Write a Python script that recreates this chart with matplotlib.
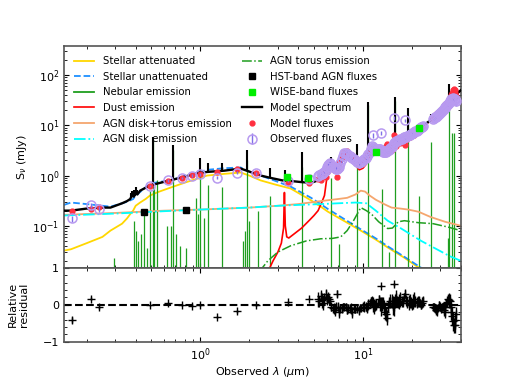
import matplotlib
matplotlib.use('Agg')
import matplotlib.pyplot as plt
from matplotlib.ticker import MultipleLocator

# ---- stellar components (wavelength in micron, flux in mJy) ----
stel_wave = [0.145, 0.16, 0.2, 0.25, 0.28, 0.33, 0.354, 0.37, 0.386, 0.40, 0.426, 0.46, 0.49, 0.55, 0.65,
             0.8, 0.96, 1.1, 1.4, 1.77, 2.0, 2.35, 2.9, 3.6, 4.8, 5.5, 6.1, 8.0, 9.7, 12.0, 14.2, 18.0, 21.8, 25.0]
stel_att = [0.032, 0.034, 0.045, 0.06, 0.08, 0.11, 0.14, 0.17, 0.2, 0.25, 0.29, 0.34, 0.40, 0.47, 0.57,
            0.72, 0.87, 1.0, 1.08, 1.15, 1.0, 0.8, 0.66, 0.55, 0.32, 0.24, 0.19, 0.115, 0.08, 0.053, 0.037,
            0.023, 0.015, 0.011]
stel_unatt = [0.26, 0.29, 0.27, 0.25, 0.24, 0.28, 0.30, 0.32, 0.34, 0.4, 0.47, 0.58, 0.69, 0.74, 0.8,
              0.98, 1.15, 1.3, 1.4, 1.45, 1.2, 1.0, 0.78, 0.6, 0.36, 0.27, 0.215, 0.125, 0.085, 0.056, 0.039,
              0.024, 0.016, 0.012]

# ---- nebular lines ----
neb_wave = [0.295, 0.391, 0.403, 0.414, 0.433, 0.451, 0.471, 0.491, 0.513, 0.52, 0.543, 0.626, 0.662, 0.681,
            0.711, 0.753, 0.82, 0.945, 0.972, 1.0, 1.06, 1.12, 1.35, 1.82, 1.87, 1.95, 2.0, 2.25, 2.7, 4.2,
            6.4, 7.1, 9.2, 10.7, 13.1, 14.5, 15.8, 18.9, 22.2, 26.3, 33.5, 34.0, 35.3, 36.3]
neb_peak = [0.023, 0.126, 0.08, 0.05, 0.07, 0.2, 0.036, 0.5, 5.0, 0.6, 0.8, 0.1, 0.1, 3.2,
            0.07, 0.04, 0.036, 0.36, 0.17, 1.0, 0.14, 0.65, 0.6, 0.05, 0.08, 2.0, 0.126, 0.2, 0.4, 1.5,
            0.9, 0.043, 2.3, 25.0, 0.55, 0.03, 30.0, 16.0, 0.4, 4.6, 0.058, 40.0, 7.2, 7.2]

# ---- dust ----
dust_wave = [2.6, 2.8, 3.0, 3.15, 3.25, 3.29, 3.33, 3.4, 3.5, 3.8, 4.2, 4.7, 5.0, 5.3, 5.6, 5.8, 6.0, 6.2,
             6.6, 7.0, 7.4, 7.7, 8.1, 8.5, 9.0, 9.5, 10.0, 10.5, 11.0, 11.3, 11.8, 12.4, 12.8, 13.5, 14.2,
             15.0, 15.5, 17.0, 18.5, 20.0, 22.0, 24.0, 26.0, 28.0, 30.0, 33.0, 36.0, 40.0]
dust_flux = [0.012, 0.02, 0.03, 0.045, 0.09, 0.46, 0.1, 0.06, 0.057, 0.07, 0.09, 0.13, 0.16, 0.2, 0.3, 0.4,
             0.9, 1.35, 1.15, 1.2, 1.8, 2.7, 2.4, 2.0, 1.6, 1.3, 1.4, 1.7, 2.5, 3.2, 3.0, 3.0, 3.1, 2.6, 2.9,
             3.5, 4.0, 5.0, 5.8, 6.6, 8.2, 10.1, 12.2, 14.2, 18.2, 26.7, 36.7, 49.7]

# ---- AGN ----
agn_wave = [0.145, 0.3, 0.6, 1.0, 2.0, 3.0, 4.0, 5.5, 7.0, 8.0, 9.0, 9.7, 10.3, 11.0, 12.0, 13.5, 15.0,
            17.0, 19.0, 22.0, 26.0, 32.0, 40.0]
agn_total = [0.165, 0.18, 0.2, 0.21, 0.23, 0.25, 0.27, 0.31, 0.34, 0.36, 0.42, 0.5, 0.48, 0.4, 0.33, 0.27,
             0.23, 0.22, 0.21, 0.19, 0.15, 0.12, 0.1]
disk_wave = [0.145, 0.3, 0.6, 1.0, 2.0, 3.0, 4.0, 5.5, 7.0, 9.0, 10.5, 12.0, 14.2, 17.0, 20.0, 22.8, 28.0,
             34.0, 40.0]
disk_flux = [0.16, 0.175, 0.195, 0.21, 0.23, 0.25, 0.26, 0.27, 0.28, 0.29, 0.28, 0.2, 0.126, 0.09, 0.065,
             0.05, 0.035, 0.025, 0.02]
torus_wave = [2.3, 2.6, 3.0, 3.6, 4.5, 5.5, 6.5, 7.3, 8.0, 8.8, 9.7, 10.5, 11.3, 12.5, 14.2, 15.2, 16.5,
              18.0, 22.0, 27.0, 33.0, 40.0]
torus_flux = [0.012, 0.02, 0.03, 0.04, 0.05, 0.055, 0.056, 0.06, 0.08, 0.13, 0.23, 0.2, 0.17, 0.12, 0.088,
              0.09, 0.12, 0.126, 0.115, 0.11, 0.095, 0.08]

# ---- model spectrum ----
model_wave = [0.145, 0.16, 0.2, 0.25, 0.28, 0.33, 0.354, 0.37, 0.38, 0.39, 0.40, 0.41, 0.426, 0.46, 0.49,
              0.55, 0.65, 0.8, 0.96, 1.1, 1.4, 1.77, 2.0, 2.35, 2.7, 3.2, 3.6, 4.2, 4.8, 5.3, 5.6, 5.9, 6.2,
              6.6, 7.0, 7.4, 7.7, 8.1, 8.5, 9.0, 9.5, 10.0, 10.5, 11.0, 11.3, 11.8, 12.4, 12.8, 13.5, 14.2,
              15.0, 15.5, 17.0, 18.5, 20.0, 22.0, 24.0, 26.0, 28.0, 30.0, 33.0, 36.0, 40.0]
model_flux = [0.2, 0.2, 0.22, 0.23, 0.23, 0.28, 0.31, 0.34, 0.4, 0.38, 0.44, 0.42, 0.5, 0.57, 0.63,
              0.7, 0.8, 0.95, 1.12, 1.18, 1.25, 1.38, 1.2, 1.0, 0.9, 0.8, 0.78, 0.74, 0.72, 0.8, 0.95, 1.2,
              1.6, 1.4, 1.4, 2.0, 3.0, 2.7, 2.3, 2.0, 1.8, 1.9, 2.2, 2.9, 3.6, 3.4, 3.4, 3.5, 3.0, 3.2,
              3.9, 4.4, 5.4, 6.2, 7.0, 8.6, 10.5, 12.5, 14.5, 18.5, 27.0, 37.0, 50.0]
spike_wave = [0.375, 0.38, 0.385, 0.39, 0.395, 0.40, 0.41, 0.513, 0.681, 1.0, 1.12, 1.35, 1.95, 2.7, 3.3,
              4.2, 6.4, 9.2, 10.7, 15.8, 18.9, 26.3, 34.0]
spike_base = [0.36, 0.38, 0.39, 0.38, 0.4, 0.42, 0.43, 0.65, 0.8, 1.15, 1.18, 1.25, 1.3, 0.9, 0.78,
              0.74, 1.5, 1.9, 2.2, 4.5, 6.3, 12.5, 29.0]
spike_top = [0.45, 0.5, 0.47, 0.52, 0.5, 0.58, 0.52, 5.8, 4.0, 2.2, 1.8, 1.8, 3.2, 1.4, 1.3,
             2.9, 2.3, 4.2, 29.0, 36.0, 22.0, 17.0, 66.0]

# ---- photometry ----
hst_wave = [0.45, 0.82]
hst_flux = [0.19, 0.21]
wise_wave = [3.4, 4.6, 12.0, 22.0]
wise_flux = [0.95, 0.9, 3.0, 8.7]

phot_wave = [0.162, 0.212, 0.238, 0.49, 0.635, 0.77, 0.89, 0.99, 1.27, 1.69, 2.19, 3.44, 4.64,
             11.6, 13.0, 15.6, 18.2]
phot_obs = [0.14, 0.26, 0.22, 0.62, 0.8, 0.9, 1.0, 1.05, 0.9, 1.15, 1.1, 0.78, 0.87, 6.3, 7.0, 14.0, 12.6]
phot_err = [0.02, 0.03, 0.03, 0.04, 0.05, 0.05, 0.05, 0.05, 0.06, 0.07, 0.06, 0.04, 0.05, 0.6, 0.7, 1.2, 1.1]
phot_model = [0.2, 0.22, 0.235, 0.62, 0.78, 0.9, 1.02, 1.05, 1.2, 1.35, 1.1, 0.72, 0.72, 3.6, 3.5, 6.5, 5.8]

mir_wave = [5.3, 5.4, 5.5, 5.6, 5.7, 5.8, 5.9, 6.0, 6.1, 6.2, 6.3, 6.4, 6.5, 6.6, 6.7, 6.8, 6.9, 7.0, 7.1,
            7.25, 7.4, 7.55, 7.7, 7.85, 8.0, 8.15, 8.3, 8.45, 8.6, 8.8, 9.0, 9.2, 9.4, 9.6, 9.8, 10.0,
            10.2, 10.4, 10.6, 10.8, 11.0, 11.15, 11.3, 11.5, 11.7, 11.9, 12.1, 12.3, 12.5, 12.7, 12.9,
            13.1, 13.3, 13.5, 13.7, 13.9, 14.1, 14.3, 14.5, 14.75, 15.0, 15.25, 15.5, 15.75, 16.0, 16.25,
            16.5, 16.75, 17.0, 17.3, 17.6, 17.9, 18.2, 18.5, 18.8, 19.1, 19.4, 19.7, 20.0, 20.35, 20.7,
            21.05, 21.4, 21.75, 22.1, 22.45, 22.8, 23.15, 23.5,
            27.0, 27.4, 27.8, 28.2, 28.6, 29.0, 29.4, 29.8, 30.2, 30.6, 31.0, 31.4, 31.8, 32.2, 32.6,
            33.0, 33.4, 33.8, 34.2, 34.6, 35.0, 35.4, 35.8, 36.2, 36.6, 37.0, 37.4]
mir_flux = [1.0, 1.02, 1.05, 1.08, 1.1, 1.2, 1.3, 1.45, 1.6, 1.7, 1.75, 1.6, 1.5, 1.45, 1.4, 1.38, 1.35,
            1.42, 1.5, 1.8, 2.1, 2.5, 2.8, 2.85, 2.7, 2.55, 2.4, 2.3, 2.2, 2.1, 2.0, 1.9, 1.8, 1.85, 1.9,
            2.0, 2.1, 2.25, 2.4, 2.7, 3.0, 3.4, 3.8, 3.65, 3.5, 3.4, 3.3, 3.35, 3.4, 3.35, 3.3, 3.15, 3.0,
            2.95, 2.9, 3.0, 3.1, 3.2, 3.3, 3.5, 3.7, 4.0, 4.4, 4.6, 4.8, 4.9, 5.0, 5.15, 5.3, 5.45, 5.6,
            5.75, 5.9, 6.0, 6.1, 6.3, 6.5, 6.7, 6.9, 7.15, 7.4, 7.65, 7.9, 8.2, 8.5, 8.8, 9.1, 9.45, 9.8,
            13.5, 14.0, 14.5, 15.0, 15.5, 16.2, 17.0, 17.7, 18.5, 19.2, 20.0, 21.0, 22.0, 23.0, 24.0,
            25.5, 27.0, 28.5, 30.0, 31.5, 33.0, 34.0, 35.0, 34.0, 33.0, 32.0, 31.0]
mir_err = [0.15, 0.15, 0.15, 0.15, 0.15, 0.18, 0.2, 0.22, 0.25, 0.25, 0.25, 0.22, 0.2, 0.2, 0.2, 0.2, 0.2,
           0.22, 0.25, 0.28, 0.3, 0.35, 0.4, 0.4, 0.4, 0.38, 0.35, 0.35, 0.35, 0.32, 0.3, 0.3, 0.3, 0.3,
           0.3, 0.32, 0.35, 0.38, 0.4, 0.42, 0.45, 0.5, 0.6, 0.58, 0.55, 0.52, 0.5, 0.5, 0.5, 0.5, 0.5,
           0.48, 0.45, 0.45, 0.45, 0.48, 0.5, 0.52, 0.55, 0.58, 0.6, 0.65, 0.7, 0.75, 0.8, 0.8, 0.8, 0.85,
           0.9, 0.9, 0.9, 0.95, 1.0, 1.0, 1.0, 1.05, 1.1, 1.15, 1.2, 1.2, 1.2, 1.25, 1.3, 1.35, 1.4, 1.45,
           1.5, 1.55, 1.6,
           2.0, 2.1, 2.2, 2.3, 2.4, 2.5, 2.6, 2.7, 2.8, 2.9, 3.0, 3.2, 3.4, 3.6, 3.8, 4.0, 4.2, 4.5, 4.8,
           5.1, 5.5, 6.0, 6.5, 6.8, 7.0, 7.0, 7.0]
mir_model = [0.85, 0.9, 0.8, 0.95, 1.05, 1.0, 0.95, 1.2, 1.3, 1.45, 1.6, 1.65, 1.6, 1.6, 1.6, 1.45, 0.95,
             1.5, 1.8, 2.0, 2.3, 2.6, 2.9, 3.0, 3.1, 2.8, 2.6, 2.5, 2.6, 2.3, 2.2, 2.1, 2.05, 2.0, 2.05,
             2.1, 2.2, 2.4, 2.6, 2.7, 2.85, 3.1, 3.4, 3.6, 3.7, 3.5, 3.3, 3.2, 2.9, 3.3, 3.45, 3.1, 2.85,
             3.2, 3.5, 3.8, 4.2, 3.4, 3.1, 3.2, 3.3, 4.1, 4.6, 4.2, 3.85, 4.4, 4.75, 4.8, 4.5, 4.9, 5.0,
             4.6, 4.1, 5.2, 5.8, 5.9, 5.85, 6.3, 6.9, 6.6, 6.3, 7.0, 7.5, 7.6, 7.65, 8.4, 9.1, 9.0, 8.8,
             14.2, 15.0, 16.0, 17.0, 17.8, 17.5, 17.0, 18.5, 20.3, 20.5, 21.0, 24.0, 26.4, 24.5, 22.8,
             23.5, 23.0, 25.0, 27.0, 32.0, 39.6, 45.0, 50.7, 52.0, 51.0, 44.0, 38.8]

# ---- residuals ----
res_wave = [0.162, 0.212, 0.238, 0.49, 0.635, 0.77, 0.89, 0.99, 1.27, 1.69, 2.19, 3.44, 4.64, 13.0, 15.6]
res_val = [-0.41, 0.17, -0.07, 0.0, 0.04, 0.0, -0.02, 0.0, -0.33, -0.17, 0.0, 0.08, 0.17, 0.5, 0.55]
res_err = [0.08, 0.05, 0.05, 0.02, 0.02, 0.02, 0.02, 0.02, 0.04, 0.04, 0.02, 0.02, 0.02, 0.03, 0.03]
mir_res = [0.15, 0.1, 0.25, 0.12, 0.05, 0.18, 0.3, 0.15, 0.2, 0.15, 0.1, -0.05, -0.1, -0.1, -0.15, -0.05,
           0.3, -0.05, -0.2, -0.1, -0.1, -0.05, -0.05, -0.05, -0.15, -0.1, -0.1, -0.1, -0.2, -0.1, -0.12,
           -0.1, -0.15, -0.08, -0.08, -0.05, -0.05, -0.05, -0.1, 0.0, 0.05, 0.1, 0.1, 0.0, -0.05, -0.03,
           0.0, 0.05, 0.15, 0.02, -0.05, 0.02, 0.05, -0.08, -0.2, -0.25, -0.35, -0.05, 0.05, 0.1, 0.1,
           -0.02, -0.05, 0.1, 0.2, 0.1, 0.05, 0.08, 0.15, 0.1, 0.1, 0.2, 0.3, 0.12, 0.05, 0.06, 0.1, 0.05,
           0.0, 0.08, 0.15, 0.08, 0.05, 0.08, 0.1, 0.05, 0.0, 0.05, 0.1,
           -0.05, -0.07, -0.1, -0.13, -0.15, -0.08, 0.0, -0.05, -0.1, -0.07, -0.05, -0.15, -0.2, -0.05,
           0.05, 0.08, 0.15, 0.12, 0.1, -0.05, -0.2, -0.3, -0.45, -0.55, -0.55, -0.4, -0.25]
mir_res_err = [0.2, 0.15, 0.15, 0.2, 0.2, 0.15, 0.12, 0.15, 0.15, 0.12, 0.1, 0.12, 0.12, 0.15, 0.15, 0.12,
               0.1, 0.12, 0.15, 0.12, 0.12, 0.1, 0.1, 0.1, 0.1, 0.12, 0.12, 0.15, 0.15, 0.12, 0.1, 0.12,
               0.12, 0.1, 0.1, 0.12, 0.15, 0.12, 0.12, 0.15, 0.1, 0.12, 0.15, 0.2, 0.2, 0.15, 0.15, 0.12,
               0.12, 0.2, 0.25, 0.2, 0.15, 0.2, 0.2, 0.2, 0.2, 0.15, 0.15, 0.2, 0.2, 0.25, 0.25, 0.2,
               0.2, 0.15, 0.15, 0.2, 0.2, 0.15, 0.15, 0.12, 0.12, 0.15, 0.15, 0.2, 0.2, 0.15, 0.15, 0.2,
               0.2, 0.15, 0.15, 0.15, 0.15, 0.12, 0.12, 0.15, 0.15,
               0.1, 0.12, 0.12, 0.15, 0.15, 0.1, 0.1, 0.12, 0.12, 0.1, 0.1, 0.15, 0.15, 0.12, 0.12,
               0.15, 0.15, 0.2, 0.2, 0.2, 0.2, 0.25, 0.25, 0.2, 0.2, 0.2, 0.2]

plt.rcParams['font.size'] = 8
plt.rcParams['xtick.direction'] = 'in'
plt.rcParams['ytick.direction'] = 'in'

fig = plt.figure(figsize=(5.12, 3.84), dpi=100)
gs = fig.add_gridspec(2, 1, height_ratios=[3, 1], hspace=0)
ax1 = fig.add_subplot(gs[0])
ax2 = fig.add_subplot(gs[1], sharex=ax1)

ymin = 0.0145
ax1.plot(stel_wave, stel_att, color='gold', lw=1.3, label='Stellar attenuated')
ax1.plot(stel_wave, stel_unatt, color='#1e90ff', ls='--', lw=1.3, label='Stellar unattenuated')
ax1.vlines(neb_wave, 1e-3, neb_peak, color='#1f9e1f', lw=0.9)
ax1.plot([], [], color='#1f9e1f', lw=1.3, label='Nebular emission')
ax1.plot(dust_wave, dust_flux, color='red', lw=1.2, label='Dust emission')
ax1.plot(agn_wave, agn_total, color='#f5a66e', lw=1.3, label='AGN disk+torus emission')
ax1.plot(disk_wave, disk_flux, color='cyan', ls='-.', lw=1.3, label='AGN disk emission')
ax1.plot(torus_wave, torus_flux, color='#1f9e1f', ls='-.', lw=1.1, label='AGN torus emission')
ax1.plot(hst_wave, hst_flux, 's', color='k', ms=5, zorder=6, label='HST-band AGN fluxes')
ax1.plot(wise_wave, wise_flux, 's', color='#00ee00', ms=5, zorder=6, label='WISE-band fluxes')
ax1.plot(model_wave, model_flux, color='k', lw=1.7, zorder=3, label='Model spectrum')
ax1.vlines(spike_wave, spike_base, spike_top, color='k', lw=1.5, zorder=3)
ax1.plot(phot_wave + mir_wave, phot_model + mir_model, 'o', color='#ff3040', ms=3.5, zorder=4,
         label='Model fluxes')
ax1.errorbar(mir_wave, mir_flux, yerr=mir_err, fmt='o', mfc='none', mec='#b89af0', ecolor='#8070e8',
             ms=6.5, mew=1.1, elinewidth=1, zorder=5)
ax1.errorbar(phot_wave, phot_obs, yerr=phot_err, fmt='o', mfc='none', mec='#b89af0', ecolor='#8070e8',
             ms=6.5, mew=1.1, elinewidth=1, zorder=5, label='Observed fluxes')

ax1.set_xscale('log')
ax1.set_yscale('log')
ax1.set_xlim(0.145, 40)
ax1.set_ylim(ymin, 380)
ax1.set_ylabel(r'S$_\nu$ (mJy)', labelpad=2)
ax1.tick_params(which='both', top=True, right=True, labelbottom=False)
ax1.legend(loc='upper left', ncol=2, frameon=False, fontsize=7.3, columnspacing=1.0,
           labelspacing=0.55, borderaxespad=0.6)

ax2.errorbar(res_wave + mir_wave, res_val + mir_res, yerr=res_err + mir_res_err, fmt='+', color='k',
             ms=6, elinewidth=1)
ax2.axhline(0, color='k', ls='--', lw=1.5)
ax2.set_ylim(-1, 1)
ax2.yaxis.set_major_locator(MultipleLocator(1))
ax2.yaxis.set_minor_locator(MultipleLocator(0.2))
ax2.set_xlabel(r'Observed $\lambda$ ($\mu$m)', labelpad=1)
ax2.set_ylabel('Relative\nresidual', labelpad=2)
ax2.tick_params(which='both', top=True, right=True)

for ax in (ax1, ax2):
    for sp in ax.spines.values():
        sp.set_color('#555555')
        sp.set_linewidth(1.2)

fig.align_ylabels([ax1, ax2])
fig.savefig('out.png', dpi=100)
